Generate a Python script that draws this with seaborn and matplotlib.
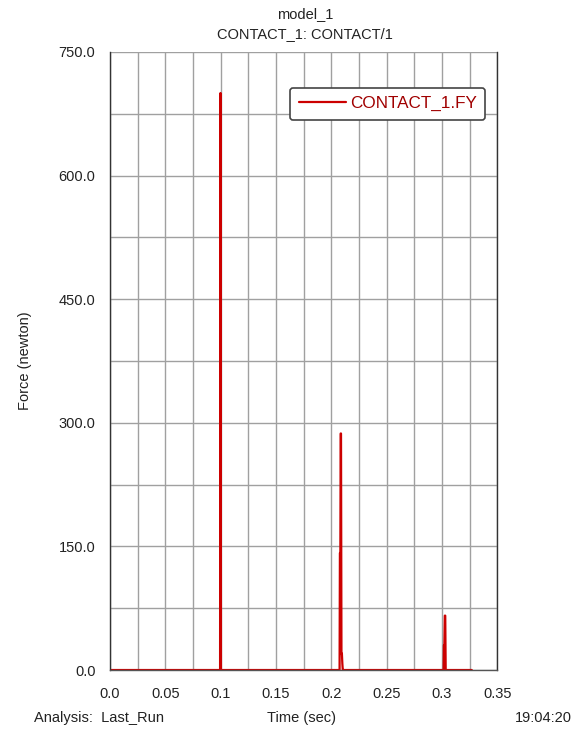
import matplotlib
matplotlib.use("Agg")
import matplotlib.pyplot as plt
import matplotlib.ticker as mticker
import seaborn as sns
import pandas as pd

sns.set_style("white")
plt.rcParams["font.family"] = ["Liberation Sans", "DejaVu Sans"]

# force trace
time_s = [0.0, 0.0995, 0.0998, 0.1000, 0.1003, 0.2075, 0.2078, 0.2082, 0.2085, 0.2088,
          0.2092, 0.2096, 0.2100, 0.2104, 0.2108, 0.3015, 0.3018, 0.3022, 0.3026, 0.3030,
          0.3034, 0.327]
force_n = [0.0, 0.0, 700.0, 700.0, 0.0, 0.0, 142.0, 142.0, 287.0, 287.0,
           20.0, 20.0, 8.0, 0.0, 0.0, 0.0, 30.0, 30.0, 66.0, 66.0,
           0.0, 0.0]
df = pd.DataFrame({"time": time_s, "force": force_n})

fig = plt.figure(figsize=(5.85, 7.35), dpi=100)
ax = fig.add_axes([0.188, 0.0884, 0.662, 0.841])

sns.lineplot(data=df, x="time", y="force", ax=ax, estimator=None, sort=False,
             color="#cc0000", linewidth=1.6, label="CONTACT_1.FY")

ax.set_xlim(0, 0.35)
ax.set_ylim(0, 750)
ax.xaxis.set_major_locator(mticker.MultipleLocator(0.05))
ax.xaxis.set_minor_locator(mticker.MultipleLocator(0.025))
ax.yaxis.set_major_locator(mticker.MultipleLocator(150))
ax.yaxis.set_minor_locator(mticker.MultipleLocator(75))
ax.xaxis.set_major_formatter(mticker.FuncFormatter(
    lambda v, p: "0.0" if abs(v) < 1e-9 else f"{v:g}"))
ax.yaxis.set_major_formatter(mticker.FormatStrFormatter("%.1f"))
ax.grid(True, which="both", color="#a0a0a0", linewidth=1)
ax.tick_params(which="both", direction="out", colors="#333333", labelsize=10.5,
               labelcolor="#222222", length=7, width=1)
ax.tick_params(axis="x", which="both", length=5, pad=7)
ax.spines["top"].set_visible(False)
for s in ["left", "right"]:
    ax.spines[s].set_color("#333333")
    ax.spines[s].set_linewidth(1)
ax.spines["bottom"].set_color("#555555")
ax.spines["bottom"].set_linewidth(1)

ax.set_xlabel("")
ax.set_ylabel("Force (newton)", fontsize=10.5, color="#222222", labelpad=19)

leg = ax.legend(loc="upper right", bbox_to_anchor=(0.969, 0.942), fontsize=12.3,
                frameon=True, fancybox=True, handlelength=2.8, handletextpad=0.2,
                borderpad=0.5, borderaxespad=0)
leg.get_frame().set_edgecolor("#444444")
leg.get_frame().set_linewidth(1.2)
leg.get_frame().set_alpha(1)
for t in leg.get_texts():
    t.set_color("#a00000")

fig.text(0.521, 0.981, "model_1", ha="center", va="center", fontsize=10.5, color="#222222")
fig.text(0.521, 0.954, "CONTACT_1: CONTACT/1", ha="center", va="center",
         fontsize=10.5, color="#222222")
fig.text(0.058, 0.023, "Analysis:  Last_Run", ha="left", va="center", fontsize=10.5, color="#222222")
fig.text(0.515, 0.023, "Time (sec)", ha="center", va="center", fontsize=10.5, color="#222222")
fig.text(0.978, 0.023, "19:04:20", ha="right", va="center", fontsize=10.5, color="#222222")

fig.savefig("out.png", dpi=100, facecolor="white")
